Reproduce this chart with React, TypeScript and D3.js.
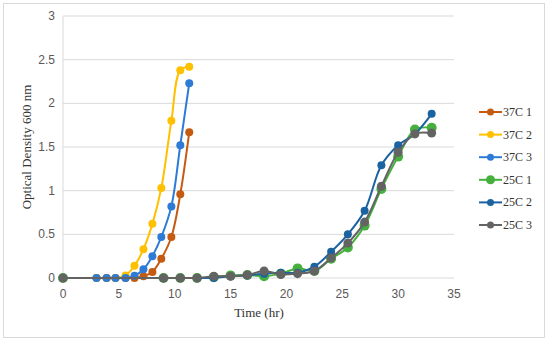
import React from "react";
import * as d3 from "d3";

// time points (hr)
const time37 = [3.0, 3.9, 4.7, 5.6, 6.4, 7.2, 8.0, 8.8, 9.7, 10.5, 11.3];
const time25 = [0, 9, 10.5, 12, 13.5, 15, 16.5, 18, 19.5, 21, 22.5, 24, 25.5, 27, 28.5, 30, 31.5, 33];

// OD600 readings
const od37_1 = [0, 0, 0, 0, 0, 0.02, 0.07, 0.22, 0.47, 0.96, 1.67];
const od37_2 = [0, 0, 0, 0.03, 0.14, 0.33, 0.62, 1.03, 1.8, 2.38, 2.42];
const od37_3 = [0, 0, 0, 0, 0.025, 0.1, 0.25, 0.47, 0.82, 1.52, 2.23];
const od25_1 = [0, 0, 0, 0, 0.01, 0.03, 0.035, 0.02, 0.05, 0.11, 0.08, 0.22, 0.35, 0.6, 1.02, 1.39, 1.7, 1.72];
const od25_2 = [0, 0, 0, 0, 0, 0.02, 0.03, 0.05, 0.06, 0.06, 0.13, 0.3, 0.5, 0.77, 1.29, 1.52, 1.65, 1.88];
const od25_3 = [0, 0, 0, 0, 0.02, 0.02, 0.035, 0.08, 0.04, 0.05, 0.08, 0.23, 0.4, 0.64, 1.05, 1.44, 1.65, 1.66];

const xTicks = [0, 5, 10, 15, 20, 25, 30, 35];
const yTicks = [0, 0.5, 1, 1.5, 2, 2.5, 3];

type Series = { name: string; t: number[]; v: number[]; color: string; r: number; lr: number };

const series: Series[] = [
  { name: "37C 1", t: time37, v: od37_1, color: "#C55A11", r: 4, lr: 3.5 },
  { name: "37C 2", t: time37, v: od37_2, color: "#FFC000", r: 4, lr: 3.5 },
  { name: "37C 3", t: time37, v: od37_3, color: "#2E7BD6", r: 4, lr: 3.5 },
  { name: "25C 1", t: time25, v: od25_1, color: "#45B03D", r: 5, lr: 4.5 },
  { name: "25C 2", t: time25, v: od25_2, color: "#1B62A0", r: 4, lr: 3.5 },
  { name: "25C 3", t: time25, v: od25_3, color: "#636363", r: 4.5, lr: 3.5 },
];

const W = 550;
const H = 341;
const plot = { left: 63, right: 454, top: 16, bottom: 278 };

export default function App() {
  const x = d3.scaleLinear().domain([0, 35]).range([plot.left, plot.right]);
  const y = d3.scaleLinear().domain([0, 3]).range([plot.bottom, plot.top]);

  const line = d3
    .line<[number, number]>()
    .x((d) => x(d[0]))
    .y((d) => y(d[1]))
    .curve(d3.curveCatmullRom.alpha(0.5));

  const tickFont = "'Liberation Sans', Arial, sans-serif";
  const serif = "'Liberation Serif', 'Times New Roman', serif";

  return (
    <svg width={W} height={H} style={{ position: "absolute", left: 0, top: 0 }}>
      <rect x={0} y={0} width={W} height={H} fill="#fff" />
      <rect x={3.5} y={3.5} width={541} height={334} fill="none" stroke="#d9d9d9" />

      {/* gridlines */}
      {yTicks.map((v) => (
        <line key={v} x1={plot.left} x2={plot.right} y1={y(v)} y2={y(v)} stroke="#d9d9d9" strokeWidth={1} />
      ))}
      <line x1={plot.left} x2={plot.left} y1={plot.top} y2={plot.bottom} stroke="#d9d9d9" />

      {/* tick labels */}
      {yTicks.map((v) => (
        <text key={v} x={55} y={y(v) + 4} textAnchor="end" fontFamily={tickFont} fontSize={12} fill="#595959">
          {v}
        </text>
      ))}
      {xTicks.map((v) => (
        <text key={v} x={x(v)} y={298} textAnchor="middle" fontFamily={tickFont} fontSize={12} fill="#595959">
          {v}
        </text>
      ))}

      {/* axis titles */}
      <text x={259} y={317} textAnchor="middle" fontFamily={serif} fontSize={13} fill="#333">
        Time (hr)
      </text>
      <text
        transform={`translate(31, ${(plot.top + plot.bottom) / 2}) rotate(-90)`}
        textAnchor="middle"
        fontFamily={serif}
        fontSize={13}
        fill="#333"
      >
        Optical Density 600 nm
      </text>

      {/* series */}
      {series.map((s) => {
        const pts = s.t.map((t, i) => [t, s.v[i]] as [number, number]);
        return (
          <g key={s.name}>
            <path d={line(pts) ?? ""} fill="none" stroke={s.color} strokeWidth={2} />
            {pts.map((p, i) => (
              <circle key={i} cx={x(p[0])} cy={y(p[1])} r={s.r} fill={s.color} />
            ))}
          </g>
        );
      })}

      {/* legend */}
      {series.map((s, i) => {
        const ly = 112 + i * 22.6;
        return (
          <g key={s.name}>
            <line x1={479} x2={502} y1={ly} y2={ly} stroke={s.color} strokeWidth={2} />
            <circle cx={490.5} cy={ly} r={s.lr} fill={s.color} />
            <text x={503} y={ly + 4} fontFamily={serif} fontSize={12} fill="#333">
              {s.name}
            </text>
          </g>
        );
      })}
    </svg>
  );
}
